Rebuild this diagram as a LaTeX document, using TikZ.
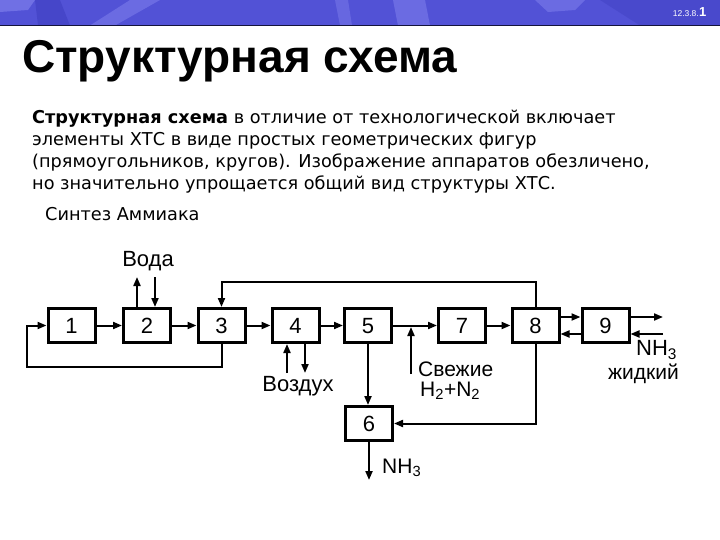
\documentclass[tikz,border=0pt]{standalone}
\usepackage{fontspec}
\setmainfont{DejaVu Sans}
\newfontfamily\diafont{Liberation Sans}
\newfontfamily\titlefont{Liberation Sans}
\usetikzlibrary{arrows.meta}
\definecolor{hdrblue}{RGB}{82,82,214}
\definecolor{hdrlight}{RGB}{125,125,235}
\definecolor{hdrdark}{RGB}{60,60,190}
\definecolor{hdrline}{RGB}{20,20,60}
\tikzset{
  blk/.style={draw=black, line width=3pt, fill=white, minimum width=47pt, minimum height=34pt, inner sep=0pt, text height=15.5pt, text depth=0pt, font=\diafont\fontsize{22}{22}\selectfont},
  con/.style={line width=2pt, -{Triangle[length=9pt,width=7pt]}},
  ln/.style={line width=2pt},
  lbl/.style={font=\diafont\fontsize{21}{21}\selectfont, inner sep=0pt},
  body/.style={font=\fontsize{17.7}{17.7}\selectfont, inner sep=0pt, anchor=base west}
}
\begin{document}
\begin{tikzpicture}[x=1pt,y=-1pt]
\useasboundingbox (0,0) rectangle (720,540);
% header band
\fill[hdrblue] (0,0) rectangle (720,25.5);
\fill[hdrlight, opacity=0.7] (0,0) -- (35,0) -- (28,10) -- (0,12) -- cycle;
\fill[hdrdark, opacity=0.5] (35,0) -- (60,0) -- (70,25.5) -- (38,25.5) -- cycle;
\fill[hdrlight, opacity=0.6] (90,25.5) -- (130,0) -- (160,0) -- (115,25.5) -- cycle;
\fill[hdrlight, opacity=0.5] (335,0) -- (348,0) -- (352,25.5) -- (340,25.5) -- cycle;
\fill[hdrlight, opacity=0.6] (393,0) -- (425,0) -- (430,25.5) -- (398,25.5) -- cycle;
\fill[hdrlight, opacity=0.6] (535,0) -- (585,0) -- (575,10) -- (548,12) -- cycle;
\fill[hdrdark, opacity=0.4] (600,0) -- (720,0) -- (720,25.5) -- (640,25.5) -- cycle;
\draw[hdrline, line width=1.3pt] (0,25.5) -- (720,25.5);
\node[font=\diafont\fontsize{8.5}{8.5}\selectfont, text=white, anchor=base east, inner sep=0pt] (pgn) at (699,17) {12.3.8.};
\node[font=\diafont\bfseries\fontsize{13}{13}\selectfont, text=white, anchor=base west, inner sep=0pt] (pgn1) at (pgn.base east) {1};
% title
\node[font=\titlefont\bfseries\fontsize{46}{46}\selectfont, anchor=base west, inner sep=0pt] (title) at (22,73) {Структурная схема};
% body text
\node[body] (l1) at (32,124) {\textbf{Структурная схема} в отличие от технологической включает};
\node[body] (l2) at (32,146) {элементы ХТС в виде простых геометрических фигур};
\node[body] (l3) at (32,168) {(прямоугольников, кругов). Изображение аппаратов обезличено,};
\node[body] (l4) at (32,190) {но значительно упрощается общий вид структуры ХТС.};
\node[body] (l5) at (45,221) {Синтез Аммиака};
% blocks
\node[blk] (b1) at (71.5,325.5) {1};
\node[blk] (b2) at (147,325.5) {2};
\node[blk] (b3) at (221.5,325.5) {3};
\node[blk] (b4) at (295.5,325.5) {4};
\node[blk] (b5) at (368,325.5) {5};
\node[blk] (b7) at (462,325.5) {7};
\node[blk] (b8) at (535.5,325.5) {8};
\node[blk] (b9) at (605.5,325.5) {9};
\node[blk] (b6) at (369,423.5) {6};
% main chain
\draw[con] (b1) -- (b2);
\draw[con] (b2) -- (b3);
\draw[con] (b3) -- (b4);
\draw[con] (b4) -- (b5);
\draw[con] (b5) -- (b7);
\draw[con] (b7) -- (b8);
\draw[con] ([yshift=8.5pt]b8.east) -- ([yshift=8.5pt]b9.west);
\draw[con] ([yshift=-8.5pt]b9.west) -- ([yshift=-8.5pt]b8.east);
% outputs of 9
\coordinate (o9a) at (663,317);
\coordinate (o9b) at (663,334);
\draw[con] ([yshift=8.5pt]b9.east) -- (o9a);
\draw[con] (o9b) -- ([yshift=-8.5pt]b9.east);
\node[lbl, anchor=west, font=\diafont\fontsize{22}{22}\selectfont] (nh3a) at (636,350) {NH\textsubscript{3}};
\node[lbl, anchor=east, font=\diafont\fontsize{21}{21}\selectfont] (zhid) at (679,374) {жидкий};
% recycle 3 -> 1
\coordinate (r1) at (27,367);
\draw[con] (b3.south) |- (r1) |- (b1.west);
% 8 -> 3 over the top
\coordinate (t1) at (535.5,282);
\draw[con] (b8.north) -- (b8.north |- t1) -| (b3.north);
% water at 2
\coordinate (w1) at (137,277);
\coordinate (w2) at (155,277);
\draw[con] ([xshift=-10pt]b2.north) -- (w1);
\draw[con] (w2) -- ([xshift=8pt]b2.north);
\node[lbl, font=\diafont\fontsize{22}{22}\selectfont] (voda) at (148,261) {Вода};
% air at 4
\coordinate (a1) at (287,373);
\coordinate (a2) at (305,373);
\draw[con] (a1) -- ([xshift=-8.5pt]b4.south);
\draw[con] ([xshift=9.5pt]b4.south) -- (a2);
\node[lbl, font=\diafont\fontsize{22}{22}\selectfont] (vozd) at (298,386) {Воздух};
% 5 -> 6
\draw[con] (b5.south) -- (b5.south |- b6.north);
% fresh gas
\coordinate (f0) at (411,374);
\coordinate (f1) at (411,327);
\draw[con] (f0) -- (f1);
\node[lbl, anchor=west] (svez) at (418,369) {Свежие};
\node[lbl, anchor=west] (h2n2) at (420,391) {H\textsubscript{2}+N\textsubscript{2}};
% 8 -> 6
\draw[con] (b8.south) |- (b6.east);
% 6 output
\coordinate (o6) at (369,480);
\draw[con] (b6.south) -- (o6);
\node[lbl, anchor=west] (nh3b) at (382,468) {NH\textsubscript{3}};
\end{tikzpicture}
\end{document}
